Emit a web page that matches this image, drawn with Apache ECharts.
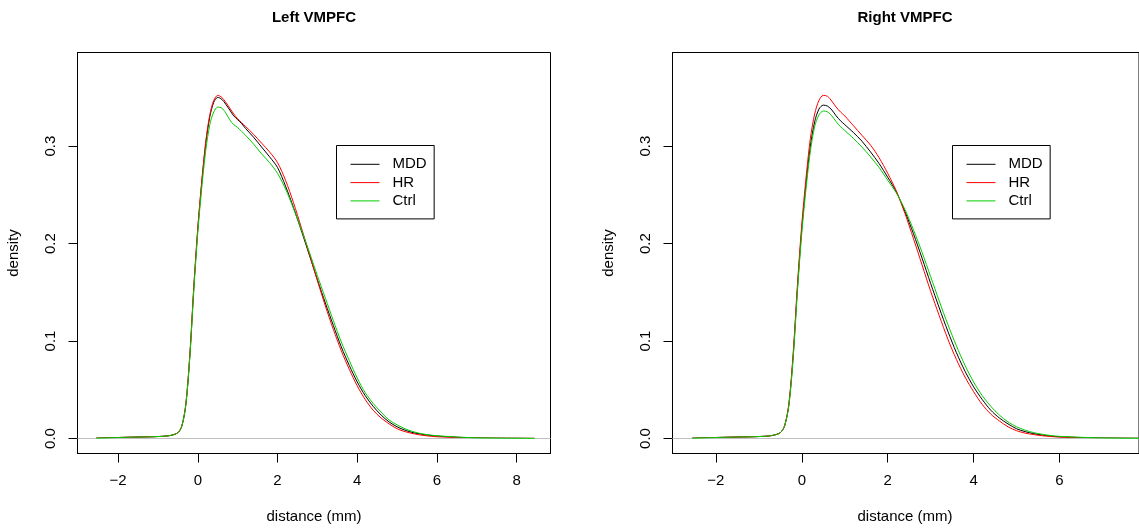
<!DOCTYPE html>
<html>
<head>
<meta charset="utf-8">
<title>VMPFC distance densities</title>
<script src="https://cdn.jsdelivr.net/npm/echarts@6.0.0/dist/echarts.min.js"></script>
<style>
  html, body { margin: 0; padding: 0; background: #ffffff; }
  #chart { width: 1139px; height: 531px; }
</style>
</head>
<body>
<div id="chart"></div>
<script>
// Kernel density estimates of distance (mm), sampled on a shared grid.
const groups = ['MDD', 'HR', 'Ctrl'];
const groupColors = ['#000000', '#FF0000', '#00CD00'];

const xs = [-2.55, -2.0, -1.5, -1.0, -0.7, -0.5, -0.4, -0.3, -0.2, -0.1,
            0.0, 0.1, 0.2, 0.3, 0.4, 0.5, 0.6, 0.7, 0.8, 0.9,
            1.0, 1.1, 1.2, 1.4, 1.6, 1.8, 2.0, 2.2, 2.4, 2.6,
            2.8, 3.0, 3.2, 3.4, 3.6, 3.8, 4.0, 4.2, 4.4, 4.6,
            4.8, 5.0, 5.2, 5.4, 5.6, 5.8, 6.0, 6.5, 7.0, 7.5,
            8.0, 8.45];

// Left VMPFC
const leftMDD = [0.0003, 0.001, 0.0015, 0.002, 0.003, 0.006, 0.013, 0.035, 0.085, 0.155,
                 0.215, 0.263, 0.303, 0.330, 0.345, 0.350, 0.348, 0.343, 0.337, 0.331,
                 0.327, 0.323, 0.318, 0.309, 0.299, 0.289, 0.278, 0.259, 0.237, 0.213,
                 0.188, 0.163, 0.139, 0.116, 0.094, 0.075, 0.058, 0.044, 0.033, 0.024,
                 0.017, 0.012, 0.0085, 0.006, 0.0045, 0.0033, 0.0025, 0.0013, 0.0006, 0.0003,
                 0.0002, 0.0001];
const leftHR = [0.0003, 0.001, 0.0015, 0.002, 0.003, 0.006, 0.013, 0.036, 0.087, 0.157,
                0.217, 0.265, 0.305, 0.332, 0.347, 0.352, 0.350, 0.345, 0.339, 0.333,
                0.328, 0.324, 0.320, 0.312, 0.303, 0.294, 0.283, 0.265, 0.242, 0.216,
                0.189, 0.162, 0.136, 0.112, 0.090, 0.071, 0.054, 0.040, 0.029, 0.021,
                0.015, 0.010, 0.007, 0.005, 0.0035, 0.0025, 0.0018, 0.001, 0.0005, 0.0003,
                0.0002, 0.0001];
const leftCtrl = [0.0003, 0.001, 0.0015, 0.002, 0.003, 0.006, 0.013, 0.035, 0.084, 0.153,
                  0.212, 0.258, 0.296, 0.322, 0.335, 0.340, 0.339, 0.334, 0.327, 0.322,
                  0.319, 0.315, 0.311, 0.302, 0.292, 0.283, 0.272, 0.256, 0.236, 0.214,
                  0.191, 0.167, 0.144, 0.121, 0.099, 0.080, 0.062, 0.047, 0.036, 0.027,
                  0.019, 0.014, 0.010, 0.007, 0.005, 0.0037, 0.0028, 0.0015, 0.0007, 0.0004,
                  0.0002, 0.0001];

// Right VMPFC
const rightMDD = [0.0003, 0.001, 0.0015, 0.002, 0.003, 0.006, 0.013, 0.035, 0.085, 0.155,
                  0.215, 0.262, 0.300, 0.325, 0.338, 0.342, 0.341, 0.337, 0.331, 0.326,
                  0.322, 0.318, 0.314, 0.305, 0.294, 0.282, 0.268, 0.253, 0.233, 0.210,
                  0.185, 0.159, 0.134, 0.110, 0.088, 0.069, 0.053, 0.040, 0.029, 0.021,
                  0.015, 0.010, 0.007, 0.005, 0.0035, 0.0025, 0.0018, 0.001, 0.0005, 0.0003,
                  0.0002, 0.0001];
const rightHR = [0.0003, 0.001, 0.0015, 0.002, 0.003, 0.006, 0.013, 0.036, 0.088, 0.159,
                 0.220, 0.268, 0.308, 0.333, 0.347, 0.352, 0.351, 0.346, 0.340, 0.335,
                 0.331, 0.326, 0.321, 0.311, 0.301, 0.288, 0.272, 0.254, 0.231, 0.205,
                 0.178, 0.151, 0.126, 0.102, 0.081, 0.063, 0.048, 0.035, 0.025, 0.018,
                 0.012, 0.008, 0.0055, 0.004, 0.0028, 0.002, 0.0014, 0.0008, 0.0004, 0.0002,
                 0.0001, 0.0001];
const rightCtrl = [0.0003, 0.001, 0.0015, 0.002, 0.003, 0.006, 0.013, 0.034, 0.083, 0.152,
                   0.211, 0.257, 0.295, 0.320, 0.332, 0.336, 0.335, 0.331, 0.325, 0.320,
                   0.316, 0.312, 0.308, 0.299, 0.289, 0.278, 0.265, 0.252, 0.235, 0.214,
                   0.191, 0.166, 0.141, 0.117, 0.095, 0.075, 0.058, 0.044, 0.033, 0.024,
                   0.017, 0.012, 0.0085, 0.006, 0.0043, 0.003, 0.0022, 0.0012, 0.0006, 0.0003,
                   0.0002, 0.0001];

const xTicks = [-2, 0, 2, 4, 6, 8];
const yTicks = [0, 0.1, 0.2, 0.3];
const panelTitles = ['Left VMPFC', 'Right VMPFC'];
const xName = 'distance (mm)';
const yName = 'density';

const FONT = '"Liberation Sans", Arial, Helvetica, sans-serif';
const FS = 15;

const panels = [
  { values: [leftMDD, leftHR, leftCtrl], grid: { left: 77.5, top: 52.5, width: 473, height: 401 },
    xMin: -3.02, xMax: 8.85, legendLeft: 336.5, titleX: 314, yNameX: 14 },
  { values: [rightMDD, rightHR, rightCtrl], grid: { left: 672.5, top: 52.5, width: 467, height: 401 },
    xMin: -3.01, xMax: 7.85, legendLeft: 952.5, titleX: 905, yNameX: 609 }
];

function pairs(vals) { return xs.map((x, i) => [x, vals[i]]); }
function minusFmt(v) { return v < 0 ? '\u2212' + Math.abs(v) : String(v); }

const option = {
  animation: false,
  backgroundColor: '#ffffff',
  grid: panels.map(p => Object.assign({ show: true, borderColor: '#000', borderWidth: 1, backgroundColor: 'transparent' }, p.grid)),
  xAxis: panels.map((p, i) => ({
    type: 'value', gridIndex: i, min: p.xMin, max: p.xMax, position: 'bottom',
    axisLine: { show: true, onZero: false, lineStyle: { color: '#000', width: 1 } },
    splitLine: { show: false },
    axisTick: { show: true, length: 9, lineStyle: { color: '#000', width: 1 }, customValues: xTicks },
    axisLabel: { show: true, margin: 20, color: '#000', fontSize: FS, fontFamily: FONT,
                 customValues: xTicks, formatter: minusFmt }
  })),
  yAxis: panels.map((p, i) => ({
    type: 'value', gridIndex: i, min: -0.0154, max: 0.396, position: 'left',
    axisLine: { show: true, onZero: false, lineStyle: { color: '#000', width: 1 } },
    splitLine: { show: false },
    axisTick: { show: true, length: 9, lineStyle: { color: '#000', width: 1 }, customValues: yTicks },
    axisLabel: { show: true, margin: 19, rotate: 90, color: '#000', fontSize: FS, fontFamily: FONT,
                 customValues: yTicks, formatter: v => v.toFixed(1) }
  })),
  legend: panels.map(p => ({
    orient: 'vertical', left: p.legendLeft, top: 145.5,
    padding: [11.3, 7.5, 10.5, 13.5],
    itemWidth: 29, itemHeight: 15, itemGap: 3.3,
    borderColor: '#000', borderWidth: 1, backgroundColor: '#fff',
    selectedMode: false,
    itemStyle: { opacity: 0 },
    lineStyle: { width: 1 },
    textStyle: { color: '#000', fontSize: FS, fontFamily: FONT, lineHeight: 15, padding: [0, 0, 0, 8] },
    data: groups
  })),
  series: [],
  graphic: []
};

panels.forEach((p, pi) => {
  p.values.forEach((vals, gi) => {
    const s = {
      type: 'line', name: groups[gi], xAxisIndex: pi, yAxisIndex: pi,
      data: pairs(vals), symbol: 'none', smooth: 0.3,
      lineStyle: { color: groupColors[gi], width: 1 }, itemStyle: { color: groupColors[gi] },
      z: 3 + gi
    };
    if (gi === 0) {
      // horizontal reference line at zero density
      s.markLine = {
        silent: true, symbol: 'none', label: { show: false },
        lineStyle: { color: '#BEBEBE', width: 1, type: 'solid' },
        data: [{ yAxis: 0 }]
      };
    }
    option.series.push(s);
  });
  option.graphic.push(
    { type: 'text', x: p.titleX, y: 18, silent: true,
      style: { text: panelTitles[pi], font: 'bold 15px ' + FONT, fill: '#000', textAlign: 'center', textVerticalAlign: 'middle' } },
    { type: 'text', x: p.titleX, y: 517, silent: true,
      style: { text: xName, font: FS + 'px ' + FONT, fill: '#000', textAlign: 'center', textVerticalAlign: 'middle' } },
    { type: 'text', x: p.yNameX, y: 253, rotation: Math.PI / 2, silent: true,
      style: { text: yName, font: FS + 'px ' + FONT, fill: '#000', textAlign: 'center', textVerticalAlign: 'middle' } }
  );
});

const chart = echarts.init(document.getElementById('chart'), null, { renderer: 'canvas' });
chart.setOption(option);
</script>
</body>
</html>
